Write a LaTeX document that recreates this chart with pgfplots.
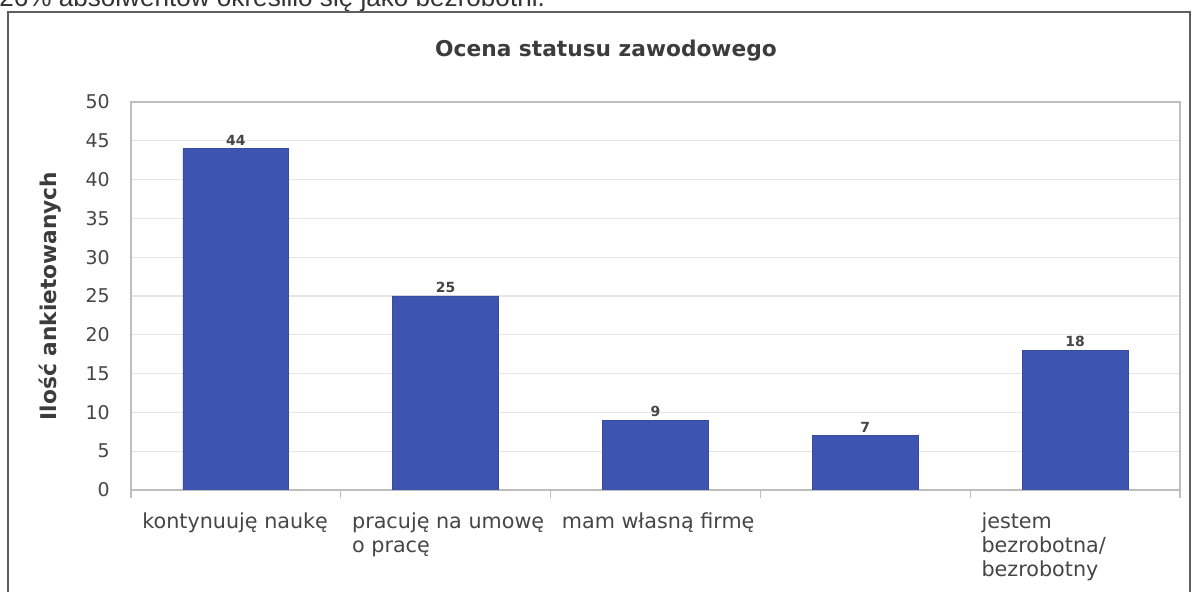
\documentclass[border=0pt]{standalone}
\usepackage{fontspec}
\setmainfont{DejaVu Sans}
\newfontfamily\arialfont{Liberation Sans}
\usepackage{pgfplots}
\pgfplotsset{compat=1.18}
\definecolor{barblue}{RGB}{61,84,177}
\definecolor{gridgray}{RGB}{230,230,230}
\definecolor{axgray}{RGB}{190,190,190}
\definecolor{txtgray}{RGB}{70,70,70}
\definecolor{titlegray}{RGB}{60,60,60}
\definecolor{framegray}{RGB}{95,95,95}
\begin{document}
\begin{tikzpicture}
\useasboundingbox (0,0) rectangle (596bp,296bp);
\fill[white] (0,0) rectangle (596bp,296bp);
\node[anchor=base west, inner sep=0pt, font=\arialfont\fontsize{13.1}{15}\selectfont, text=black!80] at (-0.5bp,292.5bp) {26\% absolwentów określiło się jako bezrobotni.};
\draw[framegray, line width=1.1bp] (4bp,-5bp) -- (4bp,290bp) -- (595bp,290bp) -- (595bp,-5bp);
\begin{axis}[
  at={(65.5bp,51bp)}, anchor=south west,
  scale only axis, width=524.5bp, height=194bp,
  xmin=-0.5, xmax=4.5, ymin=0, ymax=50,
  ybar, bar width=0.505,
  ytick={0,5,...,50},
  xtick={0,1,2,3,4},
  minor xtick={-0.5,0.5,...,4.5},
  xticklabels={{kontynuuję naukę},{pracuję na umowę\\o pracę},{mam własną firmę},{},{jestem\\bezrobotna/\\bezrobotny}},
  major tick length=0pt,
  minor tick length=4bp,
  tick align=outside,
  tick pos=left,
  minor tick style={axgray, line width=0.6bp},
  axis line style={axgray, line width=0.6bp},
  ymajorgrids, grid style={gridgray, line width=0.6bp},
  /pgf/number format/assume math mode=true,
  yticklabel style={inner sep=0pt, xshift=-10.5bp, font=\fontsize{9.5}{11}\selectfont, text=txtgray},
  xticklabel style={anchor=north west, align=left, inner sep=0pt, xshift=-47bp, yshift=-11.25bp, font=\fontsize{10.4}{12}\selectfont, text=txtgray},
  ylabel={Ilość ankietowanych},
  ylabel style={at={(axis description cs:-0.0772,0.5)}, anchor=center, font=\bfseries\fontsize{10.9}{13}\selectfont, text=titlegray},
  title={Ocena statusu zawodowego},
  title style={at={(axis description cs:0.4528,1.1186)}, anchor=base, yshift=-6bp, font=\bfseries\fontsize{10.9}{13}\selectfont, text=titlegray},
  nodes near coords,
  nodes near coords style={font=\bfseries\fontsize{7}{8}\selectfont, text=txtgray, inner sep=1.5bp},
]
\addplot[fill=barblue, draw=barblue!90!black] coordinates {(0,44) (1,25) (2,9) (3,7) (4,18)};
\end{axis}
\end{tikzpicture}
\end{document}
